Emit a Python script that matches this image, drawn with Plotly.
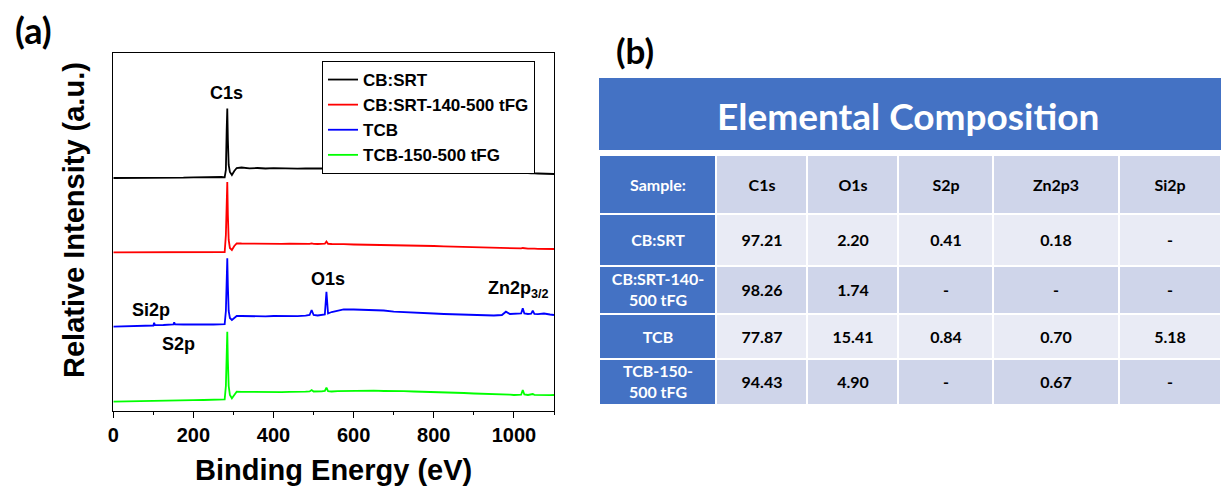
import plotly.graph_objects as go

# ---------------- data: XPS survey spectra (intensity in arbitrary, stacked units) -------------
energy = [0, 25, 50, 75, 100, 102, 104, 125, 150, 152, 154, 175, 200, 225, 250, 270, 278, 281, 283,
          284.5, 286, 288, 291, 296, 302, 308, 320, 340, 360, 380, 400, 420, 440, 460, 480, 490, 495,
          500, 510, 520, 528, 532, 536, 545, 560, 575, 600, 625, 650, 675, 700, 725, 750, 775, 800,
          825, 850, 875, 900, 925, 950, 970, 980, 990, 1000, 1010, 1018, 1022, 1026, 1035, 1043,
          1047, 1051, 1060, 1075, 1090, 1100]

cb_srt = [233, 233, 232.8, 233.2, 233, 233, 233, 233.1, 233.2, 233.2, 233.2, 233.4, 233.7, 234, 234.2,
          234, 233.7, 241, 281, 302.5, 271, 246, 239, 236, 240, 243, 243.5, 242.7, 243, 242.5, 242.8,
          242.5, 242.7, 242.4, 242.6, 242.5, 243, 242.5, 242.4, 242.6, 242.5, 244, 242.7, 242.5, 242.7,
          242.4, 242.3, 242, 241.8, 241.6, 241.4, 241.1, 240.8, 240.5, 240.2, 240, 239.7, 239.5, 239.2,
          239, 238.7, 238.5, 238.7, 238.4, 238.2, 238.1, 238, 238.4, 238, 237.8, 237.7, 237.9, 237.6,
          237.5, 237.4, 237.2, 237]

cb_srt_tfg = [158.7, 158.7, 158.8, 158.6, 158.7, 158.7, 158.8, 158.7, 158.8, 158.8, 158.8, 158.9, 159,
              159, 159.1, 159, 159, 176, 211, 229, 196, 171, 163, 161, 165, 167.7, 167.5, 167.3, 167.5,
              167.2, 167.4, 167.1, 167.3, 167, 167.2, 167.1, 167.6, 167.1, 167, 167.2, 167.3, 169.5,
              167.2, 167, 167.1, 166.8, 166.5, 166.4, 166.3, 166.1, 166, 165.8, 165.5, 165.3, 165,
              164.7, 164.4, 164, 163.5, 163.4, 163.2, 163, 163.2, 162.9, 162.8, 162.7, 162.6, 163,
              162.6, 162.4, 162.3, 162.5, 162.3, 162.2, 162.1, 162, 162]

tcb = [84.3, 84.5, 84.8, 85, 85.5, 88.3, 85.8, 86, 86.5, 88.7, 86.6, 86.5, 86.8, 86.7, 86.5, 86.5, 86.8,
       100, 135, 152.7, 125, 100, 93, 91, 93, 95, 95, 94.7, 95, 94.6, 95, 94.8, 95.1, 94.9, 95.3, 96,
       101, 96, 95.5, 95.8, 96.5, 119.3, 97.5, 99, 100.5, 101.7, 101.5, 101.2, 101, 100.5, 99.3, 99,
       98.5, 98, 97.5, 97, 96.7, 96.3, 96, 95.8, 95.5, 96, 99.3, 97, 97.3, 97, 97.5, 102.7, 97.5, 97,
       97.3, 100.3, 97, 96.8, 97.5, 96.5, 96]

tcb_tfg = [9.3, 9.4, 9.5, 9.6, 9.8, 9.8, 9.9, 10, 10.3, 10.3, 10.4, 10.6, 10.8, 11, 11.3, 11.5, 11.7,
           25, 60, 79.3, 50, 25, 16, 12.7, 16, 19.3, 19.2, 19, 19.2, 18.8, 19.1, 18.9, 19.2, 19, 19.3,
           19.6, 21, 19.5, 19.3, 19.6, 20, 23.3, 19.8, 19.5, 19.8, 20, 20.3, 20.2, 20.3, 20, 20.2, 19.8,
           19.5, 19.3, 19, 18.7, 18.4, 18, 17.5, 17.2, 16.8, 16.5, 17, 16.3, 16, 16, 16.3, 21, 16.5, 16,
           16.2, 17, 16.2, 16, 15.9, 15.8, 16]

series_names = ["CB:SRT", "CB:SRT-140-500 tFG", "TCB", "TCB-150-500 tFG"]
series_values = [cb_srt, cb_srt_tfg, tcb, tcb_tfg]
series_colors = ["#000000", "#FF0000", "#0000FF", "#00FF00"]

peak_labels = ["C1s", "O1s", "Zn2p<sub>3/2</sub>", "Si2p", "S2p"]
peak_label_x = [282, 535, 1012, 95, 162]
peak_label_y = [318, 132, 122, 101, 67]

# ---------------- data: elemental composition table ----------------
table_title = "Elemental Composition"
table_header = ["Sample:", "C1s", "O1s", "S2p", "Zn2p3", "Si2p"]
samples = ["CB:SRT", "CB:SRT-140-<br>500 tFG", "TCB", "TCB-150-<br>500 tFG"]
c1s = ["97.21", "98.26", "77.87", "94.43"]
o1s = ["2.20", "1.74", "15.41", "4.90"]
s2p = ["0.41", "-", "0.84", "-"]
zn2p3 = ["0.18", "-", "0.70", "0.67"]
si2p = ["-", "-", "5.18", "-"]

# table geometry (relative column widths / row heights)
col_edges = [0, 117, 208, 299, 394, 520, 622]
row_edges = [0, 59, 111, 159, 204, 250]

W, H = 1221, 488
ARIAL = "Liberation Sans, Arial, sans-serif"
CAL = "Lato, Open Sans, sans-serif"
blue = "#4472C4"
light = "#E9EBF5"
mid = "#CFD5EA"

fig = go.Figure()
for name, vals, col in zip(series_names, series_values, series_colors):
    fig.add_trace(go.Scatter(x=energy, y=vals, mode="lines", name=name,
                             line=dict(color=col, width=1.8)))

# ---- table built from heatmap bricks (centred text, custom widths/heights) ----
cols_data = [c1s, o1s, s2p, zn2p3, si2p]
n_rows = len(samples)
z_sample = [[0] for _ in range(n_rows + 1)]
t_sample = [[table_header[0]]] + [[s] for s in samples]
band = [2] + [1 if i % 2 == 0 else 2 for i in range(n_rows)]
z_vals = [[band[r]] * len(cols_data) for r in range(n_rows + 1)]
t_vals = [table_header[1:]] + [[c[r] for c in cols_data] for r in range(n_rows)]
cscale = [[0, blue], [0.5, light], [1, mid]]

fig.add_trace(go.Heatmap(x=col_edges[:2], y=row_edges, z=z_sample, text=t_sample,
                         texttemplate="%{text}", zmin=0, zmax=2, colorscale=cscale,
                         showscale=False, xgap=2, ygap=2, hoverinfo="skip",
                         textfont=dict(family=CAL, size=16, color="white", weight="bold"),
                         xaxis="x2", yaxis="y2", showlegend=False))
fig.add_trace(go.Heatmap(x=col_edges[1:], y=row_edges, z=z_vals, text=t_vals,
                         texttemplate="%{text}", zmin=0, zmax=2, colorscale=cscale,
                         showscale=False, xgap=2, ygap=2, hoverinfo="skip",
                         textfont=dict(family=CAL, size=16, color="black", weight="bold"),
                         xaxis="x2", yaxis="y2", showlegend=False))

annotations = []
for t, x, y in zip(peak_labels, peak_label_x, peak_label_y):
    annotations.append(dict(text=t, x=x, y=y, xref="x", yref="y", showarrow=False,
                            xanchor="center", yanchor="middle",
                            font=dict(family=ARIAL, size=18, color="black", weight="bold")))
annotations += [
    dict(text="Relative Intensity (a.u.)", x=74 / W, y=1 - 220 / H, xref="paper", yref="paper",
         showarrow=False, textangle=-90, xanchor="center", yanchor="middle",
         font=dict(family=ARIAL, size=29, color="black", weight="bold")),
    dict(text="(a)", x=33 / W, y=1 - 30 / H, xref="paper", yref="paper", showarrow=False,
         xanchor="center", yanchor="middle",
         font=dict(family=CAL, size=36, color="black", weight="bold")),
    dict(text="(b)", x=635 / W, y=1 - 50 / H, xref="paper", yref="paper", showarrow=False,
         xanchor="center", yanchor="middle",
         font=dict(family=CAL, size=35, color="black", weight="bold")),
    dict(text=table_title, x=908 / W, y=1 - 116 / H, xref="paper", yref="paper", showarrow=False,
         xanchor="center", yanchor="middle",
         font=dict(family=CAL, size=37, color="white", weight="bold")),
]

fig.update_layout(
    width=W, height=H,
    margin=dict(l=0, r=0, t=0, b=0),
    paper_bgcolor="white", plot_bgcolor="white",
    showlegend=True,
    legend=dict(x=322 / W, y=1 - 61 / H, xanchor="left", yanchor="top",
                bgcolor="white", bordercolor="black", borderwidth=1,
                font=dict(family=ARIAL, size=17, color="black", weight="bold"),
                itemwidth=30, tracegroupgap=0),
    shapes=[dict(type="rect", xref="paper", yref="paper", x0=599 / W, x1=1.0,
                 y0=1 - 150 / H, y1=1 - 78 / H, fillcolor=blue, line=dict(width=0), layer="below")],
    annotations=annotations,
    xaxis=dict(domain=[113.3 / W, 554 / W], range=[0, 1100], dtick=200, tick0=0,
               showline=True, linecolor="black", linewidth=1.3, mirror=True,
               ticks="outside", ticklen=6, tickwidth=1.3, tickcolor="black",
               minor=dict(dtick=100, ticks="outside", ticklen=3, tickcolor="black", tickwidth=1.3),
               showgrid=False, zeroline=False,
               tickfont=dict(family=ARIAL, size=20, color="black", weight="bold"),
               title=dict(text="Binding Energy (eV)", standoff=14,
                          font=dict(family=ARIAL, size=29, color="black", weight="bold")),
               automargin=False),
    yaxis=dict(domain=[1 - 411 / H, 1 - 53 / H], range=[0, 358],
               showline=True, linecolor="black", linewidth=1.3, mirror=True,
               ticks="", showticklabels=False, showgrid=False, zeroline=False,
               automargin=False),
    xaxis2=dict(domain=[599 / W, 1.0], range=[0, 622], visible=False, showgrid=False,
                zeroline=False, fixedrange=True),
    yaxis2=dict(domain=[1 - 405 / H, 1 - 155 / H], range=[250, 0], visible=False,
                showgrid=False, zeroline=False, fixedrange=True),
)

fig.write_html("out.html", config={"displayModeBar": False},
               post_script="document.body.style.margin='0';")
